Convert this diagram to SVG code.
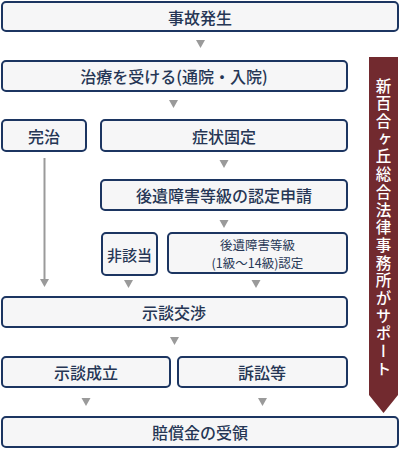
<svg xmlns="http://www.w3.org/2000/svg" width="400" height="449" viewBox="0 0 400 449">
<style>
.box{fill:#f6f6f7;stroke:#1c3561;stroke-width:2}
.t{font-family:"Noto Sans CJK JP","Noto Sans",sans-serif;font-size:16px;font-weight:500;fill:#263655;text-anchor:middle;dominant-baseline:central}
.s{font-family:"Noto Sans CJK JP","Noto Sans",sans-serif;font-size:12.5px;fill:#263655;text-anchor:middle;dominant-baseline:central}
.ar{fill:#9a9a9a}
.ln{stroke:#9a9a9a;stroke-width:2;fill:none}
.v{font-family:"Noto Sans CJK JP","Noto Sans",sans-serif;font-size:15.5px;font-weight:500;fill:#ffffff;writing-mode:vertical-rl;text-orientation:upright}
</style>
<g id="banner">
<polygon points="369,57 398,57 398,395 383.5,413 369,395" fill="#722a2f"/>
<text class="v" x="383.5" y="78" letter-spacing="2.2">新百合ヶ丘総合法律事務所がサポート</text>
</g>
<g id="n1"><rect class="box" x="2" y="2" width="396" height="29" rx="4"/><text class="t" x="200" y="16.5">事故発生</text></g>
<g id="n2"><rect class="box" x="2" y="61" width="345" height="30" rx="4"/><text class="t" x="174" y="76">治療を受ける(通院・入院)</text></g>
<g id="n3"><rect class="box" x="2" y="120" width="84" height="31" rx="4"/><text class="t" x="44" y="135.5">完治</text></g>
<g id="n4"><rect class="box" x="101" y="120" width="246" height="31" rx="4"/><text class="t" x="224" y="135.5">症状固定</text></g>
<g id="n5"><rect class="box" x="101" y="180" width="246" height="30" rx="4"/><text class="t" x="224" y="195">後遺障害等級の認定申請</text></g>
<g id="n6"><rect class="box" x="102" y="233" width="55" height="42" rx="4"/><text class="t" x="129.5" y="254" style="font-size:15px">非該当</text></g>
<g id="n7"><rect class="box" x="168" y="233" width="179" height="40" rx="4"/><text class="s" x="257.5" y="244">後遺障害等級</text><text class="s" x="257.5" y="262.5">(1級〜14級)認定</text></g>
<g id="n8"><rect class="box" x="2" y="297" width="345" height="30" rx="4"/><text class="t" x="174" y="312">示談交渉</text></g>
<g id="n9"><rect class="box" x="2" y="357" width="168" height="30" rx="4"/><text class="t" x="86" y="372">示談成立</text></g>
<g id="n10"><rect class="box" x="178" y="357" width="169" height="30" rx="4"/><text class="t" x="262" y="372">訴訟等</text></g>
<g id="n11"><rect class="box" x="2" y="417" width="396" height="30" rx="4"/><text class="t" x="200" y="432">賠償金の受領</text></g>
<g id="connectors">
<polygon class="ar" points="196,40 205,40 200.5,48"/>
<polygon class="ar" points="169,100 178,100 173.5,108"/>
<polygon class="ar" points="219.5,160 228.5,160 224,168"/>
<polygon class="ar" points="219.5,220 228.5,220 224,228"/>
<line class="ln" x1="44.5" y1="158" x2="44.5" y2="281"/>
<polygon class="ar" points="40,279 49,279 44.5,287"/>
<polygon class="ar" points="124,280 133,280 128.5,288"/>
<polygon class="ar" points="251.5,280 260.5,280 256,288"/>
<polygon class="ar" points="170,337 179,337 174.5,345"/>
<polygon class="ar" points="81.5,398 90.5,398 86,406"/>
<polygon class="ar" points="258,398 267,398 262.5,406"/>
</g>
</svg>
